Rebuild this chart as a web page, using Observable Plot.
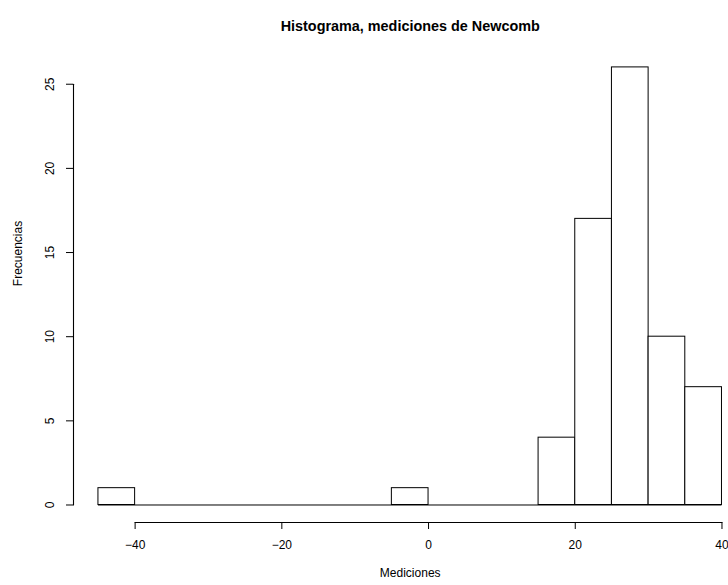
<!DOCTYPE html>
<html>
<head>
<meta charset="utf-8">
<script src="https://cdn.jsdelivr.net/npm/d3@7"></script>
<script src="https://cdn.jsdelivr.net/npm/@observablehq/plot@0.6"></script>
<style>
  html, body { margin: 0; padding: 0; background: #fff; }
</style>
</head>
<body>
<div id="chart"></div>
<script>
const breaks = [-45, -40, -35, -30, -25, -20, -15, -10, -5, 0, 5, 10, 15, 20, 25, 30, 35, 40];
const counts = [1, 0, 0, 0, 0, 0, 0, 0, 1, 0, 0, 0, 4, 17, 26, 10, 7];
const xTicks = [-40, -20, 0, 20, 40];
const yTicks = [0, 5, 10, 15, 20, 25];
const title = "Histograma, mediciones de Newcomb";
const xLabel = "Mediciones";
const yLabel = "Frecuencias";

const bins = counts.map((c, i) => ({x1: breaks[i], x2: breaks[i + 1], count: c}));

// R-style 4% range extension
const xMin = breaks[0], xMax = breaks[breaks.length - 1];
const xPad = (xMax - xMin) * 0.04;
const yMaxC = d3.max(counts);
const yPad = yMaxC * 0.04;
const xDomain = [xMin - xPad, 40.89];
const yDomain = [-yPad, yMaxC + yPad];
const xMid = (xMin + xMax) / 2;
const yMid = (yDomain[0] + yDomain[1]) / 2;

const xAxisPts = [{x: xTicks[0], y: yDomain[0]}, {x: xTicks[xTicks.length - 1], y: yDomain[0]}];
const yAxisPts = [{x: xDomain[0], y: yTicks[0]}, {x: xDomain[0], y: yTicks[yTicks.length - 1]}];

const font = "Liberation Sans, Arial, Helvetica, sans-serif";

const chart = Plot.plot({
  width: 728,
  height: 585,
  marginLeft: 73,
  marginRight: 0,
  marginTop: 49.4,
  marginBottom: 63,
  style: {fontFamily: font, fontSize: "12px", background: "#fff", overflow: "visible"},
  x: {domain: xDomain},
  y: {domain: yDomain},
  marks: [
    Plot.ruleY([0], {x1: xMin, x2: xMax, stroke: "black", strokeWidth: 1}),
    Plot.rectY(bins, {x1: "x1", x2: "x2", y1: 0, y2: "count", fill: "white", stroke: "black", strokeWidth: 1}),
    Plot.axisX({ticks: xTicks, tickSize: 7, tickPadding: 11, fontSize: 12, label: null}),
    Plot.axisY({ticks: yTicks, tickSize: 7, tickFormat: () => "", label: null}),
    Plot.text(yTicks, {x: xDomain[0], y: d => d, text: d => String(d), dx: -23, rotate: -90, fontSize: 12, fill: "black"}),
    Plot.text([title], {x: xMid, frameAnchor: "top", dy: -29.4, fontSize: 14.4, fontWeight: "bold", fill: "black"}),
    Plot.text([xLabel], {x: xMid, frameAnchor: "bottom", dy: 54, fontSize: 12, fill: "black"}),
    Plot.text([yLabel], {y: yMid, frameAnchor: "left", dx: -55, rotate: -90, fontSize: 12, fill: "black"}),
    // axis lines, drawn last
    Plot.line(xAxisPts, {x: "x", y: "y", stroke: "#000", strokeWidth: 1.1}),
    Plot.line(yAxisPts, {x: "x", y: "y", stroke: "#000", strokeWidth: 1.1})
  ]
});
document.getElementById("chart").appendChild(chart);
</script>
</body>
</html>
